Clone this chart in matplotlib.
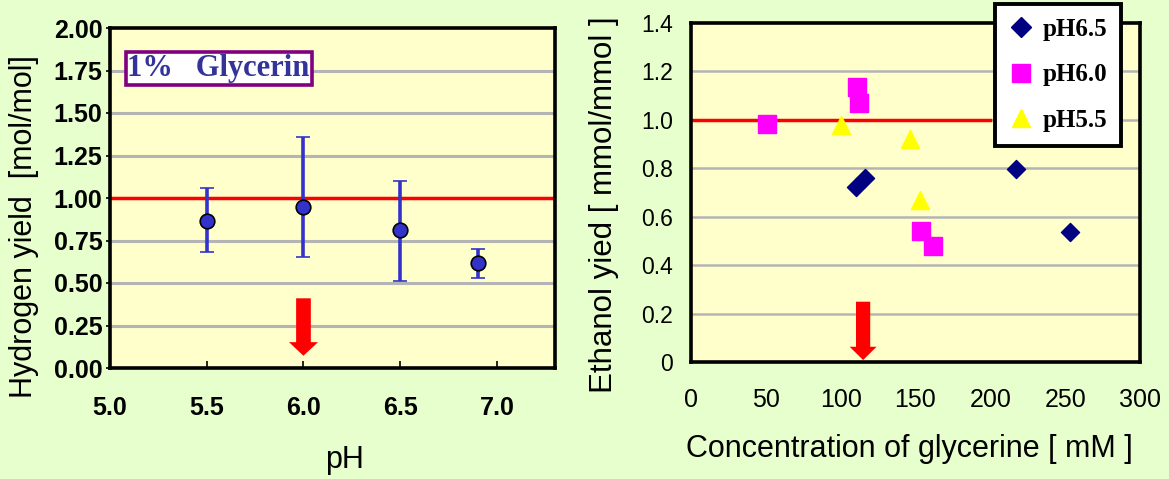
import matplotlib
matplotlib.use("Agg")
import matplotlib.pyplot as plt
from matplotlib.lines import Line2D

# ---------------- data ----------------
ph_values = [5.5, 6.0, 6.5, 6.9]
h2_yield = [0.865, 0.95, 0.81, 0.62]
h2_err_low = [0.185, 0.295, 0.30, 0.09]
h2_err_high = [0.195, 0.41, 0.29, 0.08]
h2_yticks = [0.00, 0.25, 0.50, 0.75, 1.00, 1.25, 1.50, 1.75, 2.00]
h2_xticks = [5.0, 5.5, 6.0, 6.5, 7.0]

glyc_ph65 = [110, 116.5, 217, 253]
eth_ph65 = [0.723, 0.76, 0.797, 0.537]
glyc_ph60 = [51, 111, 112, 154, 161.5]
eth_ph60 = [0.983, 1.137, 1.07, 0.541, 0.479]
glyc_ph55 = [100.5, 146.5, 153]
eth_ph55 = [0.98, 0.92, 0.67]
eth_yticks = [0, 0.2, 0.4, 0.6, 0.8, 1.0, 1.2, 1.4]
eth_yticklabels = ["0", "0.2", "0.4", "0.6", "0.8", "1.0", "1.2", "1.4"]
glyc_xticks = [0, 50, 100, 150, 200, 250, 300]
series_labels = ["pH6.5", "pH6.0", "pH5.5"]

# ---------------- style ----------------
BG = "#E6FFCC"
PLOT_BG = "#FFFFCC"
GRID = "#B4B4B4"
SANS = ["Liberation Sans", "DejaVu Sans"]
SERIF = ["Liberation Serif", "DejaVu Serif"]

W, H = 1169, 479
fig = plt.figure(figsize=(W / 100, H / 100), dpi=100, facecolor=BG)

# ---------------- left panel ----------------
ax1 = fig.add_axes([110 / W, 1 - 368 / H, 445 / W, 340 / H])
ax1.set_facecolor(PLOT_BG)
ax1.set_xlim(5.0, 7.3)
ax1.set_ylim(0, 2.0)
for y in h2_yticks[1:-1]:
    ax1.axhline(y, color=GRID, lw=2.2, zorder=1)
ax1.axhline(1.0, color="#FF0000", lw=2.5, zorder=2)
ax1.errorbar(ph_values, h2_yield, yerr=[h2_err_low, h2_err_high], fmt="o",
             color="#3333CC", ecolor="#3333CC", elinewidth=2.6, capsize=5,
             capthick=2.6, markersize=10.5, markeredgecolor="black",
             markeredgewidth=1.2, zorder=4)
ax1.arrow(6.0, 0.41, 0, -0.338, width=0.076, head_width=0.15, head_length=0.08,
          length_includes_head=True, color="#FF0000", lw=0, zorder=5)
ax1.set_yticks(h2_yticks)
ax1.set_yticklabels([f"{v:.2f}" for v in h2_yticks], family=SANS,
                    fontweight="bold", fontsize=18)
ax1.set_xticks(h2_xticks)
ax1.set_xticklabels([f"{v:.1f}" for v in h2_xticks], family=SANS,
                    fontweight="bold", fontsize=18)
ax1.tick_params(axis="y", direction="out", length=3, width=1.2, pad=2.5)
ax1.tick_params(axis="x", direction="in", length=5, width=1.2, pad=20)
for s in ax1.spines.values():
    s.set_linewidth(2.6)
    s.set_zorder(6)
ax1.text(0.244, 0.881, "1%   Glycerin", transform=ax1.transAxes,
         ha="center", va="center", family=SERIF, fontweight="bold",
         fontsize=22, color="#333399", zorder=7,
         bbox=dict(boxstyle="square,pad=0.06", fc="white", ec="#800080", lw=2.6))

fig.text(345 / W, 1 - 460 / H, "pH", ha="center", va="center",
         family=SANS, fontsize=22)
fig.text(24 / W, 1 - 227 / H, "Hydrogen yield  [mol/mol]", ha="center",
         va="center", rotation=90, family=SANS, fontsize=22)

# ---------------- right panel ----------------
ax2 = fig.add_axes([691 / W, 1 - 362 / H, 449 / W, 339 / H])
ax2.set_facecolor(PLOT_BG)
ax2.set_xlim(0, 300)
ax2.set_ylim(0, 1.4)
for y in eth_yticks[1:-1]:
    ax2.axhline(y, color=GRID, lw=1.8, zorder=1)
ax2.plot([0, 200], [1.0, 1.0], color="#FF0000", lw=2.5, zorder=2)
ax2.scatter(glyc_ph65, eth_ph65, marker="D", s=85, color="#000080", zorder=4,
            label=series_labels[0])
ax2.scatter(glyc_ph60, eth_ph60, marker="s", s=170, color="#FF00FF", zorder=3,
            label=series_labels[1])
ax2.scatter(glyc_ph55, eth_ph55, marker="^", s=170, color="#FFFF00", zorder=3,
            label=series_labels[2])
ax2.arrow(115, 0.249, 0, -0.241, width=9.5, head_width=18, head_length=0.055,
          length_includes_head=True, color="#FF0000", lw=0, zorder=5,
          clip_on=False)
ax2.set_yticks(eth_yticks)
ax2.set_yticklabels(eth_yticklabels, family=SANS, fontsize=16.5)
ax2.set_xticks(glyc_xticks)
ax2.set_xticklabels([str(v) for v in glyc_xticks], family=SANS, fontsize=18)
ax2.tick_params(axis="y", length=0, pad=13)
ax2.tick_params(axis="x", length=0, pad=19)
for s in ax2.spines.values():
    s.set_linewidth(2.6)
    s.set_zorder(6)

handles = [
    Line2D([], [], marker="D", ls="none", color="#000080", markersize=10),
    Line2D([], [], marker="s", ls="none", color="#FF00FF", markersize=13),
    Line2D([], [], marker="^", ls="none", color="#FFFF00", markersize=13),
]
leg = fig.legend(handles, series_labels, loc="upper left",
                 bbox_to_anchor=(995 / W, 1 - 4 / H),
                 bbox_transform=fig.transFigure,
                 prop=dict(family=SERIF, weight="bold", size=18),
                 frameon=True, fancybox=False, framealpha=1,
                 edgecolor="black", facecolor="white",
                 labelspacing=0.9, handletextpad=0.35, handlelength=1.0,
                 borderpad=0.55, borderaxespad=0)
leg.get_frame().set_linewidth(2.8)
leg.set_zorder(10)

fig.text(909 / W, 1 - 449 / H, "Concentration of glycerine [ mM ]",
         ha="center", va="center", family=SANS, fontsize=22)
fig.text(604 / W, 1 - 205 / H, "Ethanol yied [ mmol/mmol ]", ha="center",
         va="center", rotation=90, family=SANS, fontsize=22.5)

fig.savefig("out.png", dpi=100, facecolor=BG)
